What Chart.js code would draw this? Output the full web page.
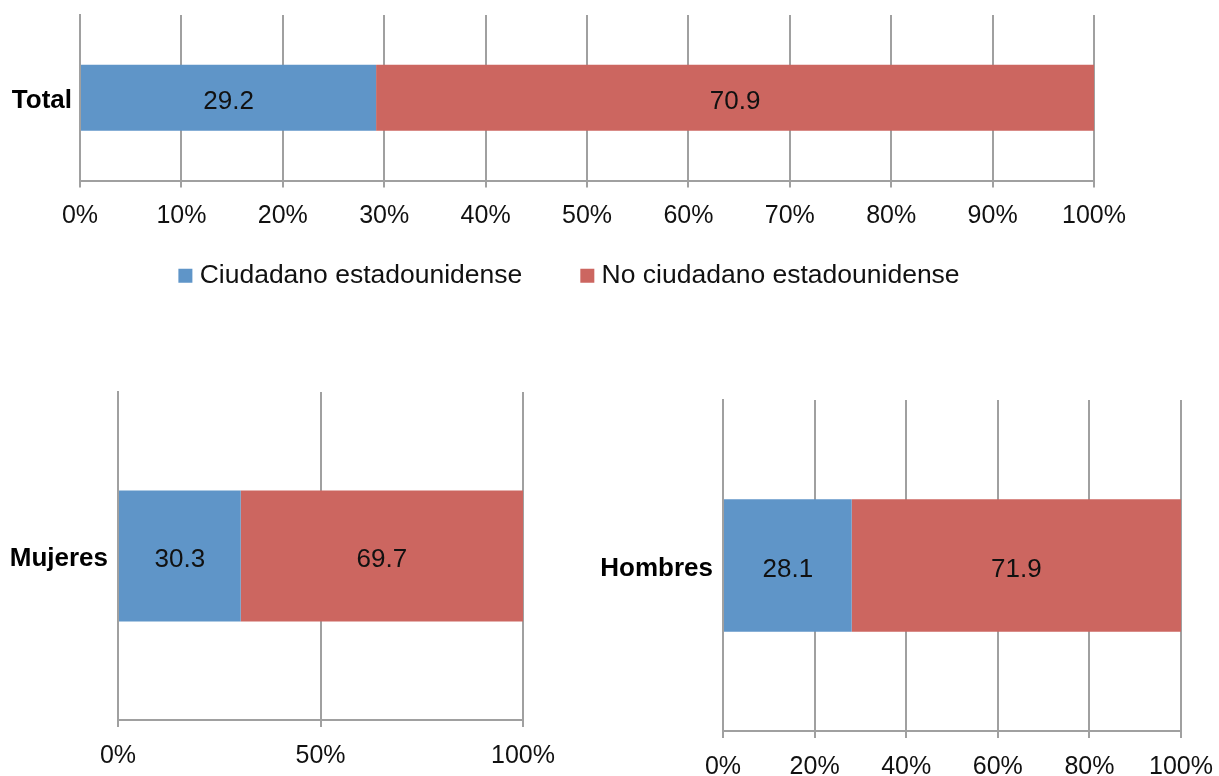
<!DOCTYPE html>
<html>
<head>
<meta charset="utf-8">
<script src="https://cdn.jsdelivr.net/npm/chart.js@4/dist/chart.umd.min.js"></script>
<style>
  body { margin: 0; background: #fff; }
  #wrap { position: relative; width: 1219px; height: 776px; }
  canvas { position: absolute; }
</style>
</head>
<body>
<div id="wrap">
  <canvas id="totalChart" width="1219" height="331" style="left:0;top:0"></canvas>
  <canvas id="mujeresChart" width="600" height="406" style="left:0;top:370px"></canvas>
  <canvas id="hombresChart" width="619" height="406" style="left:600px;top:370px"></canvas>
</div>
<script>
// Series names (legend)
const seriesNames = ['Ciudadano estadounidense', 'No ciudadano estadounidense'];

// Total
const totalLabels = ['Total'];
const totalCiudadano = [29.2];
const totalNoCiudadano = [70.9];
const totalStep = 10;

// Mujeres
const mujeresLabels = ['Mujeres'];
const mujeresCiudadano = [30.3];
const mujeresNoCiudadano = [69.7];
const mujeresStep = 50;

// Hombres
const hombresLabels = ['Hombres'];
const hombresCiudadano = [28.1];
const hombresNoCiudadano = [71.9];
const hombresStep = 20;

const BLUE = '#5F95C8';
const RED = '#CC6660';
const GRID = '#A0A0A0';
const FONT = '"Liberation Sans", Arial, sans-serif';

Chart.defaults.font.family = FONT;
Chart.defaults.color = '#111';

// writes the value in the middle of each bar segment
const valueLabels = {
    id: 'valueLabels',
    afterDatasetsDraw(chart) {
        const ctx = chart.ctx;
        ctx.save();
        ctx.font = '26px ' + FONT;
        ctx.fillStyle = '#111';
        ctx.textAlign = 'center';
        ctx.textBaseline = 'middle';
        chart.data.datasets.forEach((ds, i) => {
            chart.getDatasetMeta(i).data.forEach((bar, j) => {
                const right = Math.min(bar.x, chart.chartArea.right);
                ctx.fillText(ds.data[j].toFixed(1), (right + bar.base) / 2, bar.y + 4);
            });
        });
        ctx.restore();
    }
};

// moves the legend box after layout (legend sits closer to the axis labels)
const legendShift = {
    id: 'legendShift',
    afterLayout(chart, args, o) {
        const lg = chart.legend;
        if (!lg || !lg.options.display) return;
        lg.left += o.dx || 0; lg.right += o.dx || 0;
        lg.top += o.dy || 0; lg.bottom += o.dy || 0;
    }
};

function makeChart(id, labels, ciudadano, noCiudadano, step, opts) {
    const ctx = document.getElementById(id).getContext('2d');
    return new Chart(ctx, {
        type: 'bar',
        data: {
            labels,
            datasets: [
                { label: seriesNames[0], data: ciudadano, backgroundColor: BLUE, borderWidth: 0, barPercentage: 0.4, categoryPercentage: 1 },
                { label: seriesNames[1], data: noCiudadano, backgroundColor: RED, borderWidth: 0, barPercentage: 0.4, categoryPercentage: 1 }
            ]
        },
        options: {
            indexAxis: 'y',
            responsive: false,
            animation: false,
            layout: { padding: opts.padding },
            plugins: {
                tooltip: { enabled: false },
                legendShift: opts.shift || {},
                legend: opts.legend ? {
                    display: true,
                    position: 'bottom',
                    // square marker drawn as a point so the text sits close to it
                    labels: {
                        usePointStyle: true, pointStyle: 'rect', boxWidth: 2, boxHeight: 14,
                        padding: 64, color: '#111', font: { size: 26.5 }
                    }
                } : { display: false }
            },
            scales: {
                x: {
                    stacked: true,
                    min: 0, max: 100,
                    ticks: { stepSize: step, padding: 14, color: '#111', font: { size: 25 }, callback: v => v + '%' },
                    grid: { color: GRID, lineWidth: 2, tickLength: 7, tickColor: GRID },
                    border: { color: GRID, width: 2 },
                    afterFit: s => { s.height = opts.xHeight; s.paddingLeft = 0; s.paddingRight = 0; }
                },
                y: {
                    stacked: true,
                    ticks: { padding: 0, labelOffset: 3, color: '#000', font: { size: 26, weight: 'bold' } },
                    grid: { display: false, tickLength: opts.yPad },
                    border: { color: GRID, width: 2 },
                    afterFit: s => { s.width = opts.yWidth; s.paddingTop = 0; s.paddingBottom = 0; }
                }
            }
        },
        plugins: [valueLabels, legendShift]
    });
}

makeChart('totalChart', totalLabels, totalCiudadano, totalNoCiudadano, totalStep, {
    padding: { top: 15, right: 125, left: 0, bottom: 0 }, yWidth: 80, yPad: 8, xHeight: 50, legend: true,
    shift: { dx: 25, dy: -32 }
});
makeChart('mujeresChart', mujeresLabels, mujeresCiudadano, mujeresNoCiudadano, mujeresStep, {
    padding: { top: 22, right: 77, left: 0, bottom: 0 }, yWidth: 118, yPad: 10, xHeight: 56, legend: false
});
makeChart('hombresChart', hombresLabels, hombresCiudadano, hombresNoCiudadano, hombresStep, {
    padding: { top: 30, right: 38, left: 0, bottom: 0 }, yWidth: 123, yPad: 10, xHeight: 45, legend: false
});
</script>
</body>
</html>
